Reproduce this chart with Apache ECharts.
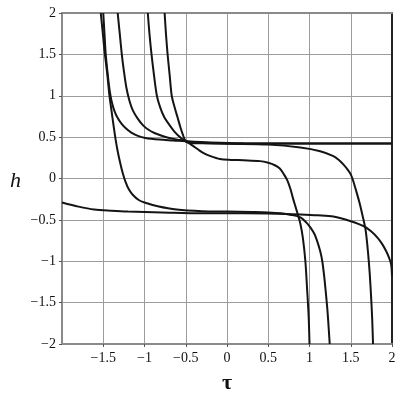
<!DOCTYPE html>
<html>
<head>
<meta charset="utf-8">
<script src="https://cdn.jsdelivr.net/npm/echarts@6/dist/echarts.min.js"></script>
<style>html,body{margin:0;padding:0;background:#fff}#c{width:400px;height:400px}</style>
</head>
<body>
<div id="c"></div>
<script>
// Curves: [tau, h]
const curveA = [[-1.50,2.0],[-1.485,1.75],[-1.47,1.5],[-1.45,1.3],[-1.43,1.12],[-1.41,0.99],[-1.39,0.9],[-1.366,0.82],[-1.33,0.74],[-1.284,0.67],[-1.23,0.61],[-1.16,0.555],[-1.08,0.515],[-0.99,0.49],[-0.82,0.47],[-0.65,0.46],[-0.5,0.45],[-0.2,0.435],[0.2,0.425],[1.0,0.423],[2.0,0.423]];
const curveB = [[-1.325,2.0],[-1.30,1.75],[-1.275,1.5],[-1.25,1.3],[-1.22,1.1],[-1.18,0.93],[-1.14,0.82],[-1.08,0.72],[-1.02,0.645],[-0.96,0.595],[-0.88,0.55],[-0.80,0.52],[-0.70,0.49],[-0.6,0.47],[-0.5,0.45],[-0.42,0.40],[-0.35,0.35],[-0.29,0.31],[-0.2,0.27],[-0.085,0.235],[0.05,0.225],[0.2,0.22],[0.40,0.21],[0.50,0.19],[0.58,0.16],[0.64,0.12],[0.69,0.05],[0.73,-0.02],[0.77,-0.13],[0.80,-0.24],[0.83,-0.34],[0.86,-0.44],[0.89,-0.55],[0.92,-0.72],[0.95,-1.0],[0.97,-1.32],[0.99,-1.67],[1.0,-2.0]];
const curveC = [[-0.96,2.0],[-0.94,1.75],[-0.915,1.5],[-0.885,1.25],[-0.85,1.0],[-0.81,0.86],[-0.76,0.74],[-0.70,0.65],[-0.64,0.57],[-0.57,0.50],[-0.5,0.45],[-0.4,0.435],[-0.3,0.43],[0.0,0.42],[0.5,0.41],[0.89,0.375],[1.13,0.33],[1.29,0.27],[1.36,0.22],[1.41,0.17],[1.46,0.11],[1.5,0.05],[1.53,-0.03],[1.56,-0.13],[1.6,-0.27],[1.64,-0.435],[1.68,-0.62],[1.71,-0.9],[1.73,-1.15],[1.745,-1.4],[1.76,-1.7],[1.77,-2.0]];
const curveD = [[-0.756,2.0],[-0.74,1.75],[-0.72,1.5],[-0.695,1.25],[-0.67,1.0],[-0.635,0.86],[-0.60,0.74],[-0.565,0.62],[-0.535,0.53],[-0.5,0.45],[-0.45,0.43],[-0.3,0.425],[0.0,0.423],[1.0,0.423],[2.0,0.423]];
const curveE = [[-1.53,2.0],[-1.505,1.75],[-1.48,1.5],[-1.45,1.25],[-1.425,1.0],[-1.40,0.82],[-1.375,0.64],[-1.35,0.47],[-1.325,0.33],[-1.295,0.19],[-1.265,0.07],[-1.23,-0.04],[-1.19,-0.13],[-1.14,-0.2],[-1.07,-0.26],[-1.0,-0.29],[-0.84,-0.335],[-0.61,-0.375],[-0.3,-0.395],[0.0,-0.40],[0.3,-0.405],[0.5,-0.41],[0.65,-0.42],[0.78,-0.44],[0.89,-0.47],[0.96,-0.53],[1.01,-0.59],[1.06,-0.67],[1.094,-0.76],[1.13,-0.88],[1.155,-1.0],[1.18,-1.2],[1.20,-1.4],[1.218,-1.6],[1.232,-1.8],[1.245,-2.0]];
const curveF = [[-2.0,-0.29],[-1.8,-0.34],[-1.61,-0.375],[-1.4,-0.39],[-1.2,-0.40],[-0.79,-0.41],[-0.3,-0.42],[0.2,-0.42],[0.6,-0.425],[0.89,-0.435],[1.1,-0.445],[1.29,-0.46],[1.5,-0.516],[1.66,-0.577],[1.75,-0.64],[1.826,-0.717],[1.88,-0.79],[1.93,-0.88],[1.965,-0.96],[1.99,-1.04],[2.0,-1.18]];
const curves = [curveA, curveB, curveC, curveD, curveE, curveF];

const xTicks = { min: -2, max: 2, step: 0.5 };
const yTicks = { min: -2, max: 2, step: 0.5 };
const xName = 'τ';
const yName = 'h';

const fmt = v => String(v).replace('-', '\u2212');
const labelFont = { fontFamily: 'Liberation Serif', fontSize: 14, color: '#111' };

const chart = echarts.init(document.getElementById('c'), null, { renderer: 'canvas' });
chart.setOption({
  animation: false,
  backgroundColor: '#fff',
  grid: { left: 62, right: 8, top: 13, bottom: 56, containLabel: false },
  xAxis: [{
    type: 'value', min: xTicks.min, max: xTicks.max, interval: xTicks.step,
    axisLine: { show: true, onZero: false, lineStyle: { color: '#8a8a8a', width: 2 } },
    axisTick: { show: true, length: 3, lineStyle: { color: '#555' } },
    axisLabel: Object.assign({ formatter: fmt, margin: 7, showMinLabel: false }, labelFont),
    splitLine: { show: true, lineStyle: { color: '#9c9c9c', width: 1 } }
  }, {
    type: 'value', position: 'top', min: xTicks.min, max: xTicks.max, interval: xTicks.step,
    axisLine: { show: true, onZero: false, lineStyle: { color: '#8a8a8a', width: 2 } },
    axisTick: { show: false }, axisLabel: { show: false }, splitLine: { show: false }
  }],
  yAxis: [{
    type: 'value', min: yTicks.min, max: yTicks.max, interval: yTicks.step,
    axisLine: { show: true, onZero: false, lineStyle: { color: '#8a8a8a', width: 2 } },
    axisTick: { show: true, length: 3, lineStyle: { color: '#555' } },
    axisLabel: Object.assign({ formatter: fmt, margin: 6 }, labelFont),
    splitLine: { show: true, lineStyle: { color: '#9c9c9c', width: 1 } }
  }, {
    type: 'value', position: 'right', min: yTicks.min, max: yTicks.max, interval: yTicks.step,
    axisLine: { show: true, onZero: false, lineStyle: { color: '#222', width: 2 } },
    axisTick: { show: false }, axisLabel: { show: false }, splitLine: { show: false }
  }],
  graphic: [
    { type: 'text', left: 10, top: 170, style: { text: yName, font: 'italic 22px "Liberation Serif"', fill: '#111' } },
    { type: 'text', left: 222, top: 372, style: { text: xName, font: 'bold 22px "Liberation Serif"', fill: '#111' } }
  ],
  series: curves.map(c => ({
    type: 'line', data: c, xAxisIndex: 0, yAxisIndex: 0,
    showSymbol: false, smooth: 0.3, clip: true,
    lineStyle: { color: '#141414', width: 2 }
  }))
});
</script>
</body>
</html>
